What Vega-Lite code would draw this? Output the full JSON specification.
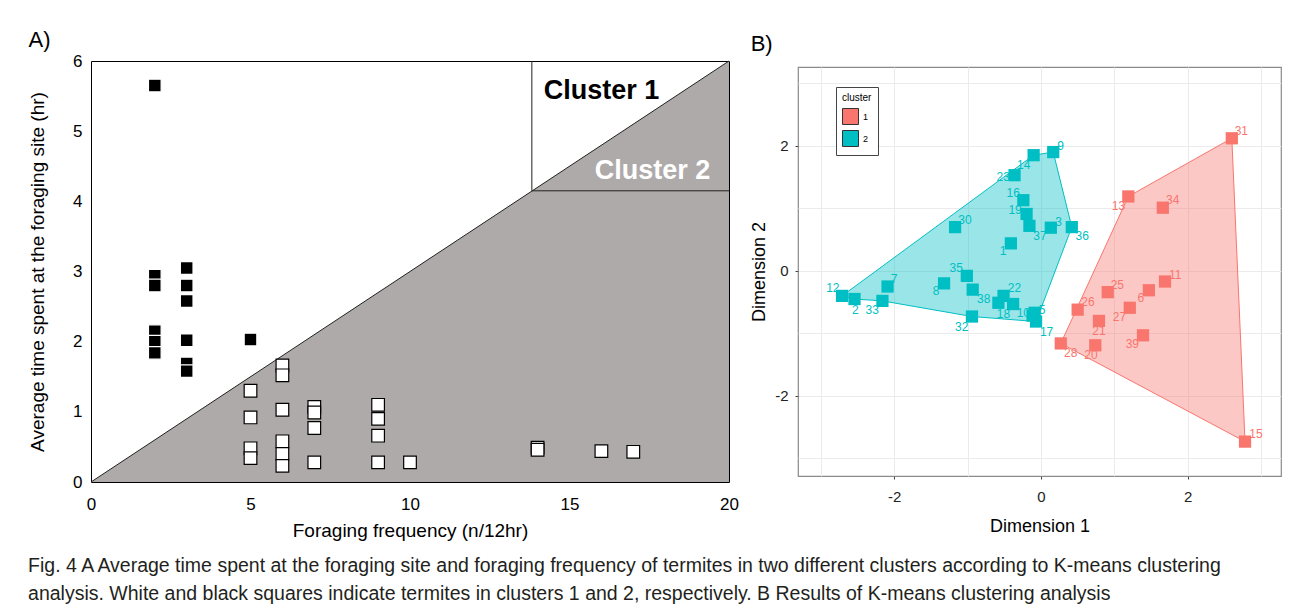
{
  "$schema": "https://vega.github.io/schema/vega-lite/v6.json",
  "background": "white",
  "padding": {"left": 28, "top": 28, "right": 5, "bottom": 5},
  "config": {"font": "Liberation Sans", "view": {"stroke": null}},
  "resolve": {"scale": {"color": "independent", "fill": "independent", "stroke": "independent"}},
  "center": true,
  "bounds": "flush",
  "spacing": 69,
  "title": {
    "text": ["Fig. 4  A Average time spent at the foraging site and foraging frequency of termites in two different clusters according to K-means clustering", "analysis. White and black squares indicate termites in clusters 1 and 2, respectively.  B Results of K-means clustering analysis"],
    "orient": "bottom", "anchor": "start", "frame": "bounds", "fontSize": 19.5, "fontWeight": "normal", "lineHeight": 28, "offset": 16, "color": "#231f20"
  },
  "datasets": {
    "tri": [{"f": 0, "t": 0}, {"f": 20, "t": 6}],
    "box": [{"x1": 13.82, "x2": 13.82, "y1": 4.15, "y2": 6}, {"x1": 13.82, "x2": 20, "y1": 4.15, "y2": 4.15}],
    "alab": [{"f": 16.0, "t": 5.57, "txt": "Cluster 1", "c": "1"}, {"f": 17.6, "t": 4.43, "txt": "Cluster 2", "c": "2"}],
    "a": [
      {"f": 2, "t": 5.65, "c": "2"}, {"f": 2, "t": 2.94, "c": "2"}, {"f": 2, "t": 2.8, "c": "2"}, {"f": 2, "t": 2.15, "c": "2"}, {"f": 2, "t": 2.0, "c": "2"}, {"f": 2, "t": 1.84, "c": "2"},
      {"f": 3, "t": 3.05, "c": "2"}, {"f": 3, "t": 2.8, "c": "2"}, {"f": 3, "t": 2.58, "c": "2"}, {"f": 3, "t": 2.02, "c": "2"}, {"f": 3, "t": 1.69, "c": "2"}, {"f": 3, "t": 1.58, "c": "2"},
      {"f": 5, "t": 2.03, "c": "2"},
      {"f": 5, "t": 1.3, "c": "1"}, {"f": 5, "t": 0.92, "c": "1"}, {"f": 5, "t": 0.48, "c": "1"}, {"f": 5, "t": 0.34, "c": "1"},
      {"f": 6, "t": 1.66, "c": "1"}, {"f": 6, "t": 1.52, "c": "1"}, {"f": 6, "t": 1.03, "c": "1"}, {"f": 6, "t": 0.58, "c": "1"}, {"f": 6, "t": 0.4, "c": "1"}, {"f": 6, "t": 0.23, "c": "1"},
      {"f": 7, "t": 1.07, "c": "1"}, {"f": 7, "t": 0.99, "c": "1"}, {"f": 7, "t": 0.77, "c": "1"}, {"f": 7, "t": 0.28, "c": "1"},
      {"f": 9, "t": 1.1, "c": "1"}, {"f": 9, "t": 0.9, "c": "1"}, {"f": 9, "t": 0.66, "c": "1"}, {"f": 9, "t": 0.28, "c": "1"},
      {"f": 10, "t": 0.28, "c": "1"},
      {"f": 14, "t": 0.49, "c": "1"}, {"f": 14, "t": 0.46, "c": "1"},
      {"f": 16, "t": 0.44, "c": "1"}, {"f": 17, "t": 0.43, "c": "1"}
    ],
    "hull": [
      {"x": -2.71, "y": -0.40, "o": 1, "cluster": "2"}, {"x": -2.54, "y": -0.45, "o": 2, "cluster": "2"}, {"x": -2.16, "y": -0.48, "o": 3, "cluster": "2"}, {"x": -0.94, "y": -0.73, "o": 4, "cluster": "2"}, {"x": -0.067, "y": -0.81, "o": 5, "cluster": "2"}, {"x": 0.42, "y": 0.70, "o": 6, "cluster": "2"}, {"x": 0.167, "y": 1.90, "o": 7, "cluster": "2"}, {"x": -0.10, "y": 1.85, "o": 8, "cluster": "2"},
      {"x": 0.27, "y": -1.16, "o": 1, "cluster": "1"}, {"x": 2.78, "y": -2.73, "o": 2, "cluster": "1"}, {"x": 2.60, "y": 2.12, "o": 3, "cluster": "1"}, {"x": 1.19, "y": 1.19, "o": 4, "cluster": "1"}
    ],
    "b": [
      {"id": "12", "x": -2.71, "y": -0.40, "lx": -2.835, "ly": -0.274, "cluster": "2"},
      {"id": "2", "x": -2.54, "y": -0.45, "lx": -2.53, "ly": -0.62, "cluster": "2"},
      {"id": "33", "x": -2.16, "y": -0.48, "lx": -2.30, "ly": -0.63, "cluster": "2"},
      {"id": "7", "x": -2.09, "y": -0.25, "lx": -2.0, "ly": -0.13, "cluster": "2"},
      {"id": "8", "x": -1.32, "y": -0.20, "lx": -1.43, "ly": -0.32, "cluster": "2"},
      {"id": "35", "x": -1.01, "y": -0.08, "lx": -1.155, "ly": 0.05, "cluster": "2"},
      {"id": "38", "x": -0.93, "y": -0.30, "lx": -0.78, "ly": -0.45, "cluster": "2"},
      {"id": "32", "x": -0.94, "y": -0.73, "lx": -1.08, "ly": -0.89, "cluster": "2"},
      {"id": "30", "x": -1.17, "y": 0.70, "lx": -1.035, "ly": 0.82, "cluster": "2"},
      {"id": "1", "x": -0.41, "y": 0.44, "lx": -0.515, "ly": 0.32, "cluster": "2"},
      {"id": "22", "x": -0.51, "y": -0.40, "lx": -0.36, "ly": -0.27, "cluster": "2"},
      {"id": "18", "x": -0.58, "y": -0.51, "lx": -0.51, "ly": -0.69, "cluster": "2"},
      {"id": "", "x": -0.38, "y": -0.53, "lx": -0.38, "ly": -0.53, "cluster": "2"},
      {"id": "10", "x": -0.115, "y": -0.715, "lx": -0.24, "ly": -0.67, "cluster": "2"},
      {"id": "5", "x": -0.086, "y": -0.67, "lx": 0.014, "ly": -0.62, "cluster": "2"},
      {"id": "17", "x": -0.067, "y": -0.81, "lx": 0.076, "ly": -0.97, "cluster": "2"},
      {"id": "37", "x": -0.157, "y": 0.72, "lx": -0.014, "ly": 0.565, "cluster": "2"},
      {"id": "3", "x": 0.134, "y": 0.69, "lx": 0.24, "ly": 0.78, "cluster": "2"},
      {"id": "36", "x": 0.42, "y": 0.70, "lx": 0.563, "ly": 0.565, "cluster": "2"},
      {"id": "19", "x": -0.196, "y": 0.91, "lx": -0.353, "ly": 0.98, "cluster": "2"},
      {"id": "16", "x": -0.24, "y": 1.13, "lx": -0.377, "ly": 1.25, "cluster": "2"},
      {"id": "23", "x": -0.36, "y": 1.53, "lx": -0.515, "ly": 1.50, "cluster": "2"},
      {"id": "14", "x": -0.10, "y": 1.85, "lx": -0.234, "ly": 1.69, "cluster": "2"},
      {"id": "9", "x": 0.167, "y": 1.90, "lx": 0.267, "ly": 1.99, "cluster": "2"},
      {"id": "31", "x": 2.60, "y": 2.12, "lx": 2.73, "ly": 2.24, "cluster": "1"},
      {"id": "13", "x": 1.19, "y": 1.19, "lx": 1.055, "ly": 1.04, "cluster": "1"},
      {"id": "34", "x": 1.66, "y": 1.01, "lx": 1.795, "ly": 1.13, "cluster": "1"},
      {"id": "11", "x": 1.69, "y": -0.17, "lx": 1.83, "ly": -0.06, "cluster": "1"},
      {"id": "6", "x": 1.47, "y": -0.31, "lx": 1.36, "ly": -0.435, "cluster": "1"},
      {"id": "25", "x": 0.91, "y": -0.34, "lx": 1.04, "ly": -0.22, "cluster": "1"},
      {"id": "27", "x": 1.21, "y": -0.59, "lx": 1.07, "ly": -0.74, "cluster": "1"},
      {"id": "26", "x": 0.50, "y": -0.62, "lx": 0.64, "ly": -0.49, "cluster": "1"},
      {"id": "21", "x": 0.79, "y": -0.80, "lx": 0.79, "ly": -0.96, "cluster": "1"},
      {"id": "39", "x": 1.39, "y": -1.03, "lx": 1.245, "ly": -1.17, "cluster": "1"},
      {"id": "28", "x": 0.27, "y": -1.16, "lx": 0.406, "ly": -1.31, "cluster": "1"},
      {"id": "20", "x": 0.74, "y": -1.19, "lx": 0.68, "ly": -1.35, "cluster": "1"},
      {"id": "15", "x": 2.78, "y": -2.73, "lx": 2.93, "ly": -2.61, "cluster": "1"}
    ]
  },
  "hconcat": [
    {
      "width": 638, "height": 421,
      "title": {"text": "A)", "anchor": "start", "frame": "bounds", "fontSize": 22, "fontWeight": "normal", "offset": 0, "color": "black"},
      "view": {"stroke": "black", "strokeWidth": 1},
      "encoding": {
        "x": {"field": "f", "type": "quantitative", "scale": {"domain": [0, 20], "nice": false},
          "axis": {"values": [0, 5, 10, 15, 20], "title": "Foraging frequency (n/12hr)", "grid": false, "ticks": false, "domain": false, "labelFontSize": 17, "labelColor": "black", "labelPadding": 14, "labelFlush": false, "titleFontSize": 19, "titleFontWeight": "normal", "titleColor": "black", "titlePadding": 9}},
        "y": {"field": "t", "type": "quantitative", "scale": {"domain": [0, 6], "nice": false},
          "axis": {"values": [0, 1, 2, 3, 4, 5, 6], "title": "Average time spent at the foraging site (hr)", "grid": false, "ticks": false, "domain": false, "labelFontSize": 17, "labelColor": "black", "labelPadding": 9, "labelFlush": false, "titleFontSize": 19, "titleFontWeight": "normal", "titleColor": "black", "titlePadding": 25}}
      },
      "layer": [
        {"data": {"name": "tri"}, "mark": {"type": "area", "color": "#aeaaa9"}},
        {"data": {"name": "tri"}, "mark": {"type": "line", "color": "#222", "strokeWidth": 1}},
        {"data": {"name": "box"}, "mark": {"type": "rule", "color": "#222", "strokeWidth": 1},
          "encoding": {"x": {"field": "x1", "type": "quantitative"}, "x2": {"field": "x2"}, "y": {"field": "y1", "type": "quantitative"}, "y2": {"field": "y2"}}},
        {"data": {"name": "a"}, "mark": {"type": "point", "shape": "square", "filled": true, "size": 160, "opacity": 1, "strokeWidth": 1.2},
          "encoding": {
            "fill": {"field": "c", "type": "nominal", "scale": {"domain": ["1", "2"], "range": ["white", "black"]}, "legend": null},
            "stroke": {"field": "c", "type": "nominal", "scale": {"domain": ["1", "2"], "range": ["black", "white"]}, "legend": null}
          }},
        {"data": {"name": "alab"}, "mark": {"type": "text", "fontWeight": "bold", "fontSize": 27},
          "encoding": {"text": {"field": "txt"}, "color": {"field": "c", "type": "nominal", "scale": {"domain": ["1", "2"], "range": ["black", "white"]}, "legend": null}}}
      ]
    },
    {
      "width": 483, "height": 409,
      "title": {"text": "B)", "anchor": "start", "frame": "bounds", "fontSize": 22, "fontWeight": "normal", "offset": 11, "color": "black"},
      "view": {"stroke": "#8a8a8a", "strokeWidth": 1.2},
      "encoding": {
        "x": {"field": "x", "type": "quantitative", "scale": {"domain": [-3.31, 3.27], "nice": false, "zero": false},
          "axis": {"values": [-3, -2, -1, 0, 1, 2, 3], "labelExpr": "datum.value % 2 == 0 ? (datum.value < 0 ? '-' + abs(datum.value) : '' + datum.value) : ''", "title": "Dimension 1", "grid": true, "gridColor": "#ebebeb", "ticks": true, "tickSize": 3, "tickColor": {"condition": {"test": "datum.value % 2 == 0", "value": "#444"}, "value": "transparent"}, "domain": false, "labelFontSize": 15, "labelColor": "#222", "labelPadding": 10, "labelFlush": false, "titleFontSize": 18, "titleFontWeight": "normal", "titleColor": "black", "titlePadding": 13}},
        "y": {"field": "y", "type": "quantitative", "scale": {"domain": [-3.28, 3.26], "nice": false, "zero": false},
          "axis": {"values": [-3, -2, -1, 0, 1, 2, 3], "labelExpr": "datum.value % 2 == 0 ? (datum.value < 0 ? '-' + abs(datum.value) : '' + datum.value) : ''", "title": "Dimension 2", "grid": true, "gridColor": "#ebebeb", "ticks": true, "tickSize": 3, "tickColor": {"condition": {"test": "datum.value % 2 == 0", "value": "#444"}, "value": "transparent"}, "domain": false, "labelFontSize": 15, "labelColor": "#222", "labelPadding": 7, "labelFlush": false, "titleFontSize": 18, "titleFontWeight": "normal", "titleColor": "black", "titlePadding": 6}}
      },
      "layer": [
        {"data": {"name": "hull"}, "transform": [{"filter": "datum.cluster == '1'"}],
          "mark": {"type": "line", "interpolate": "linear-closed", "fill": "#F8766D", "fillOpacity": 0.4, "stroke": "#F8766D", "strokeWidth": 1},
          "encoding": {"order": {"field": "o", "type": "quantitative"}}},
        {"data": {"name": "hull"}, "transform": [{"filter": "datum.cluster == '2'"}],
          "mark": {"type": "line", "interpolate": "linear-closed", "fill": "#00BFC4", "fillOpacity": 0.4, "stroke": "#00BFC4", "strokeWidth": 1},
          "encoding": {"order": {"field": "o", "type": "quantitative"}}},
        {"data": {"name": "b"}, "mark": {"type": "point", "shape": "square", "filled": true, "size": 150, "opacity": 1},
          "encoding": {"color": {"field": "cluster", "type": "nominal", "scale": {"domain": ["1", "2"], "range": ["#F8766D", "#00BFC4"]},
            "legend": {"title": "cluster", "orient": "none", "legendX": 38, "legendY": 20, "strokeColor": "#444", "fillColor": "white", "padding": 6, "symbolType": "square", "symbolSize": 256, "symbolStrokeColor": "#333", "symbolStrokeWidth": 1, "symbolOpacity": 1, "titleFontSize": 10, "titleFontWeight": "normal", "titleColor": "black", "labelFontSize": 9, "labelColor": "black", "rowPadding": 1}}}},
        {"data": {"name": "b"}, "mark": {"type": "text", "fontSize": 12},
          "encoding": {"x": {"field": "lx", "type": "quantitative"}, "y": {"field": "ly", "type": "quantitative"}, "text": {"field": "id"},
            "color": {"field": "cluster", "type": "nominal", "legend": null}}}
      ]
    }
  ]
}
